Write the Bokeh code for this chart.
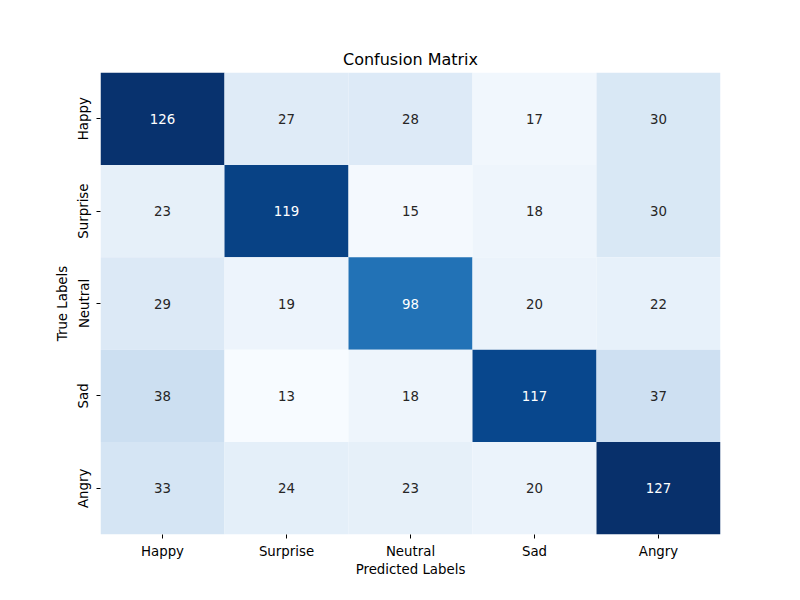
import numpy as np
from bokeh.plotting import figure
from bokeh.models import LinearColorMapper, ColumnDataSource, FixedTicker, Range1d
from bokeh.palettes import Blues9
from bokeh.core.properties import value
from bokeh.embed import file_html
from bokeh.resources import INLINE

labels = ["Happy", "Surprise", "Neutral", "Sad", "Angry"]
row_happy = [126, 27, 28, 17, 30]
row_surprise = [23, 119, 15, 18, 30]
row_neutral = [29, 19, 98, 20, 22]
row_sad = [38, 13, 18, 117, 37]
row_angry = [33, 24, 23, 20, 127]
matrix = np.array([row_happy, row_surprise, row_neutral, row_sad, row_angry])

# matplotlib "Blues" rebuilt from ColorBrewer Blues9 (light -> dark), 256 levels
base = [tuple(int(h[i:i + 2], 16) / 255 for i in (1, 3, 5)) for h in Blues9[::-1]]
base = np.array(base)
pos = np.linspace(0, 1, len(base))
t = np.linspace(0, 1, 256)
lut = np.stack([np.interp(t, pos, base[:, k]) for k in range(3)], axis=1)
palette = ["#%02x%02x%02x" % tuple(int(round(c * 255)) for c in rgb) for rgb in lut]

vmin, vmax = matrix.min(), matrix.max()
mapper = LinearColorMapper(palette=palette, low=vmin, high=vmax)

xs, ys, vals, txtcol = [], [], [], []
for i in range(5):
    for j in range(5):
        v = matrix[i, j]
        xs.append(j + 0.5)
        ys.append(i + 0.5)
        vals.append(int(v))
        idx = min(int((v - vmin) / (vmax - vmin) * 256), 255)
        rgb = lut[idx]
        lin = np.where(rgb <= 0.03928, rgb / 12.92, ((rgb + 0.055) / 1.055) ** 2.4)
        lum = 0.2126 * lin[0] + 0.7152 * lin[1] + 0.0722 * lin[2]
        txtcol.append("white" if lum < 0.408 else "#262626")

src = ColumnDataSource(dict(x=xs, y=ys, v=vals, t=[str(v) for v in vals], tc=txtcol))

p = figure(width=792, height=592, output_backend="svg", toolbar_location=None,
           x_range=Range1d(0, 5), y_range=Range1d(5, 0),
           min_border_left=100, min_border_right=72, min_border_top=72, min_border_bottom=58,
           title="Confusion Matrix")
p.rect(x="x", y="y", width=1, height=1, source=src,
       fill_color={"field": "v", "transform": mapper}, line_color=None)
p.text(x="x", y="y", text="t", source=src, text_color="tc",
       text_align="center", text_baseline="middle",
       text_font=value("DejaVu Sans"), text_font_size="13.33px")

p.grid.visible = False
p.outline_line_color = None
p.background_fill_color = "white"

p.title.align = "center"
p.title.text_font = "DejaVu Sans"
p.title.text_font_size = "16px"
p.title.text_font_style = "normal"
p.title.text_color = "black"
p.title.standoff = 8

tick_pos = [0.5, 1.5, 2.5, 3.5, 4.5]
overrides = {v: l for v, l in zip(tick_pos, labels)}
for ax in (p.xaxis, p.yaxis):
    ax.ticker = FixedTicker(ticks=tick_pos)
    ax.major_label_overrides = overrides
    ax.axis_line_color = None
    ax.minor_tick_line_color = None
    ax.major_tick_in = 0
    ax.major_tick_out = 4
    ax.major_tick_line_color = "black"
    ax.major_label_text_font = "DejaVu Sans"
    ax.major_label_text_font_size = "13.33px"
    ax.major_label_text_color = "black"
    ax.axis_label_text_font = "DejaVu Sans"
    ax.axis_label_text_font_size = "13.33px"
    ax.axis_label_text_font_style = "normal"
    ax.axis_label_text_color = "black"
    ax.major_label_standoff = 5

p.xaxis.axis_label = "Predicted Labels"
p.yaxis.axis_label = "True Labels"
p.xaxis.axis_label_standoff = 0
p.yaxis.axis_label_standoff = 4
p.yaxis.major_label_orientation = "vertical"

open("out.html", "w").write(file_html(p, INLINE))
